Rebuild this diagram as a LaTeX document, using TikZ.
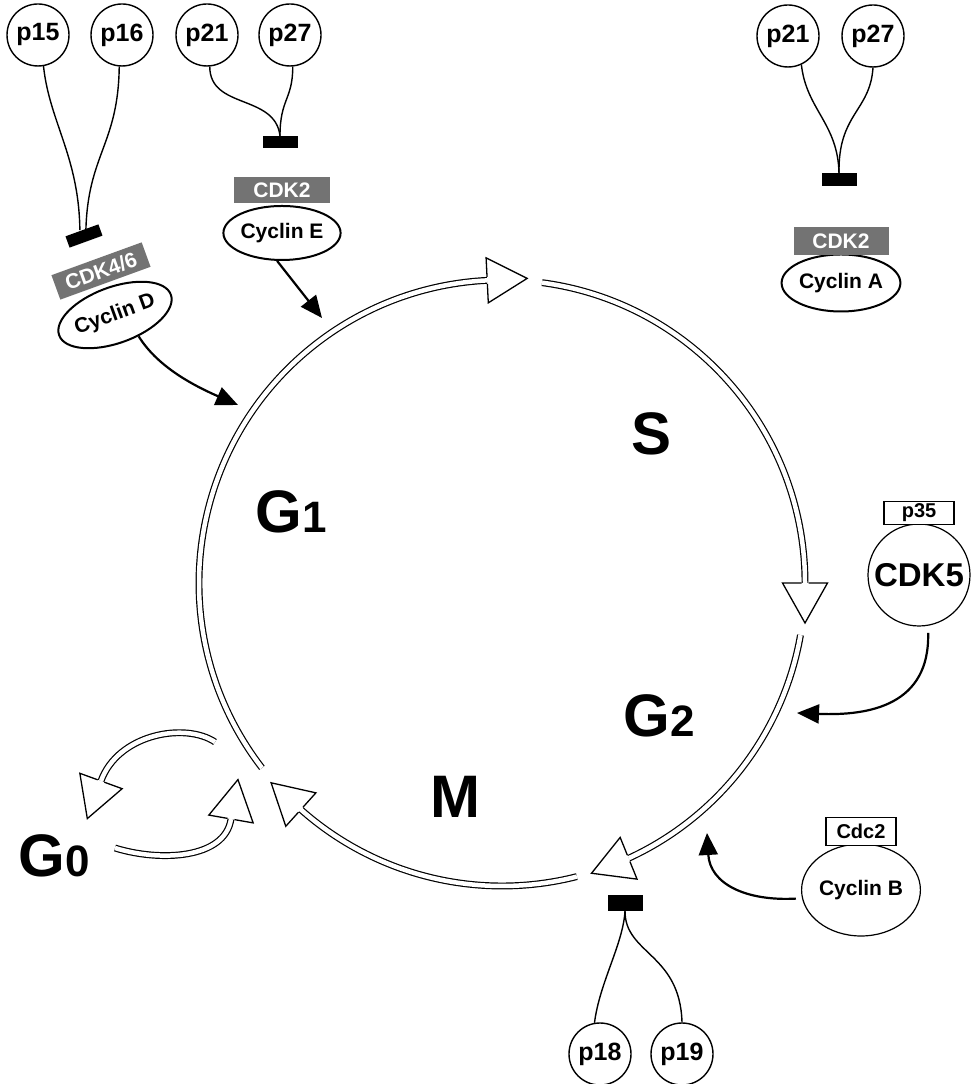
\documentclass[tikz,border=0pt]{standalone}
\usepackage{fontspec}
\setmainfont{Liberation Sans}
\usetikzlibrary{arrows.meta}
\usetikzlibrary{shapes.geometric}
\usetikzlibrary{positioning}
\tikzset{%
  myprotein/.style={circle, draw=black, line width=1.4pt, minimum size=62pt, inner sep=0pt, font=\bfseries\fontsize{25}{27}\selectfont},
  mycyclin/.style={ellipse, draw=black, fill=white, line width=2pt, minimum width=113pt, minimum height=54pt, inner sep=0pt, font=\bfseries\fontsize{21}{23}\selectfont},
  mycdk/.style={fill=black!55, text=white, minimum width=96pt, minimum height=26pt, inner sep=0pt, font=\bfseries\fontsize{21}{23}\selectfont},
  mycap/.style={draw=black, fill=white, line width=1.2pt, minimum width=70pt, minimum height=25pt, inner sep=0pt, font=\bfseries\fontsize{20}{22}\selectfont},
  mybar/.style={fill=black, minimum width=35pt, minimum height=12pt, inner sep=0pt},
  myinhibit/.style={line width=1.4pt},
  myedge/.style={->, >={Triangle[length=22pt, width=19pt]}, line width=2.2pt},
  mycycle/.style={double, double distance=4.5pt, line width=1.2pt},
  myphase/.style={anchor=base, font=\bfseries\fontsize{60}{60}\selectfont},
  myhead/.pic={
    \fill[white] (0,-22.5) -- (40,0) -- (0,22.5) -- cycle;
    \draw[line width=1.3pt] (0,3.5) -- (0,22.5) -- (40,0) -- (0,-22.5) -- (0,-3.5);
  }
}
\begin{document}
\begin{tikzpicture}[x=1pt, y=1pt]
  \useasboundingbox (0,0) rectangle (978,1084);
  \coordinate (cc) at (502,501);

  % inhibitors at the top
  \node[myprotein] (p15) at (38,1049) {p15};
  \node[myprotein] (p16) at (122,1049) {p16};
  \node[myprotein] (p21a) at (207,1049) {p21};
  \node[myprotein] (p27a) at (290,1049) {p27};
  \node[myprotein] (p21b) at (788,1048) {p21};
  \node[myprotein] (p27b) at (873,1048) {p27};
  \node[mybar, rotate=20] (bar1) at (84,848) {};
  \node[mybar] (bar2) at (280,942) {};
  \node[mybar, minimum height=13pt] (bar3) at (839,904) {};

  % cyclin / cdk complexes
  \node[mycdk, rotate=20] (cdkD) at (101,813) {CDK4/6};
  \node[mycyclin, rotate=20, minimum width=114pt, minimum height=56pt] (cycD) at (115,769) {Cyclin D};
  \node[mycyclin] (cycE) at (282,851) {Cyclin E};
  \node[mycdk, above=30pt] (cdkE) at (cycE) {CDK2};
  \node[mycyclin, minimum width=112pt, minimum height=57pt] (cycA) at (841,801) {Cyclin A};
  \node[mycdk, minimum width=95pt, minimum height=28pt, above=28pt] (cdkA) at (cycA) {CDK2};
  \node[circle, draw=black, line width=1.2pt, minimum size=102pt, inner sep=0pt, font=\bfseries\fontsize{33}{35}\selectfont] (cdk5) at (919,509) {CDK5};
  \node[mycap, minimum height=23pt, above=50pt] (p35) at (cdk5) {p35};
  \node[ellipse, draw=black, line width=1.2pt, minimum width=98pt, minimum height=92pt, inner sep=0pt, font=\bfseries\fontsize{21}{23}\selectfont] (cycB) at (861,194) {Cyclin B};
  \node[mycap, minimum height=28pt, above=44pt] (cdc2) at (cycB) {Cdc2};
  \node[mybar, minimum height=16pt] (bar4) at (625,181) {};
  \node[myprotein] (p18) at (600,30) {p18};
  \node[myprotein] (p19) at (682,30) {p19};

  % the cycle
  \draw[mycycle] ([shift={(217.6:303)}]cc) arc[start angle=217.6, end angle=92.8, radius=303pt];
  \pic[rotate=2.8] at ([shift={(92.8:303)}]cc) {myhead};
  \draw[mycycle] ([shift={(82.4:303)}]cc) arc[start angle=82.4, end angle=0, radius=303pt];
  \pic[rotate=-90] at ([shift={(0:303)}]cc) {myhead};
  \draw[mycycle] ([shift={(-9.9:303)}]cc) arc[start angle=-9.9, end angle=-65.3, radius=303pt];
  \pic[rotate=-158] at ([shift={(-65.3:303)}]cc) {myhead};
  \draw[mycycle] ([shift={(-75.7:303)}]cc) arc[start angle=-75.7, end angle=-131.6, radius=303pt];
  \pic[rotate=138] at ([shift={(-131.6:303)}]cc) {myhead};

  % G0 loop
  \coordinate (g0out) at (215,342);
  \coordinate (g0in) at (101,303);
  \coordinate (g0back) at (115,236);
  \coordinate (g1in) at (231,265);
  \draw[mycycle] (g0out) .. controls (185,362) and (118,350) .. (g0in);
  \pic[rotate=250] at (g0in) {myhead};
  \draw[mycycle] (g0back) .. controls (160,222) and (225,225) .. (g1in);
  \pic[rotate=80] at (g1in) {myhead};

  % phases
  \node[myphase] (lS) at (652,629) {S};
  \node[myphase] (lG1) at (291,551) {G\fontsize{44}{44}\selectfont 1};
  \node[myphase] (lG2) at (659,347) {G\fontsize{44}{44}\selectfont 2};
  \node[myphase] (lM) at (455,266) {M};
  \node[myphase] (lG0) at (54,207) {G\fontsize{44}{44}\selectfont 0};

  % inhibition
  \draw[myinhibit] (p15.-80) .. controls +(6,-56) and +(-1,74) .. ([xshift=-2pt]bar1.north);
  \draw[myinhibit] (p16.-95) .. controls +(-1,-78) and +(2,76) .. ([xshift=4pt]bar1.north);
  \draw[myinhibit] (p21a.-85) .. controls +(0,-43) and +(-5,42) .. (bar2.north);
  \draw[myinhibit] (p27a.-85) .. controls +(0,-33) and +(0,37) .. (bar2.north);
  \draw[myinhibit] (p21b.-65) .. controls +(5,-45) and +(-1,50) .. (bar3.north);
  \draw[myinhibit] (p27b.south) .. controls +(-3,-44) and +(-1,60) .. (bar3.north);
  \draw[myinhibit] (p18.100) .. controls +(5,40) and +(-2,-33) .. (bar4.south);
  \draw[myinhibit] (p19.north) .. controls +(-2,69) and +(0,-43) .. (bar4.south);

  % activation
  \coordinate (tD) at (238,679);
  \coordinate (tE) at (322,766);
  \coordinate (t5) at (797,371);
  \coordinate (tB) at (707,251);
  \draw[myedge] (cycD.-62) .. controls +(18,-29) and +(-48,21) .. (tD);
  \draw[myedge] (cycE.-100) -- (tE);
  \draw[myedge, shorten <=7pt] (cdk5.-80) .. controls +(2,-79) and +(73,-3) .. (t5);
  \draw[myedge, shorten <=6pt] (cycB.188) .. controls +(-56,-3) and +(3,-51) .. (tB);
\end{tikzpicture}
\end{document}
